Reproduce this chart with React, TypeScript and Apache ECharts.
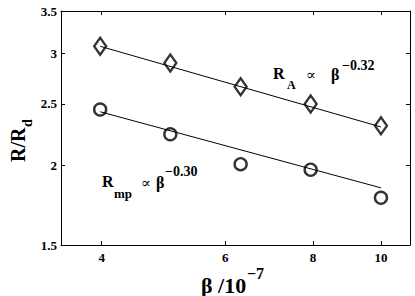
import React, { useEffect, useRef } from "react";
import * as echarts from "echarts";

// Data (log-log plot)
const beta = [3.98, 5.01, 6.31, 7.94, 10.0];
const rA = [3.08, 2.9, 2.66, 2.5, 2.31];
const rMp = [2.45, 2.24, 2.01, 1.97, 1.78];
const fitBeta = [3.98, 10.0];
const fitA = [3.08, 2.3];
const fitMp = [2.43, 1.845];
const xTicks = [4, 6, 8, 10];
const yTicks = [1.5, 2, 2.5, 3, 3.5];
const xRange = [3.5, 11];
const yRange = [1.5, 3.5];

const lg = (v: number) => Math.log10(v);
const FONT = '"Liberation Serif", "DejaVu Serif", "Times New Roman", serif';

function txt(text: string, x: number, y: number, size: number, extra: any = {}) {
  return {
    type: "text", x, y, z: 100, ...extra.el,
    style: {
      text, fontSize: size, fontFamily: FONT, fontWeight: extra.weight || "bold", fill: "#000",
      align: extra.align || "left", verticalAlign: "middle",
    },
  };
}

export default function App() {
  const ref = useRef<HTMLDivElement>(null);
  useEffect(() => {
    if (!ref.current) return;
    const chart = echarts.init(ref.current, null, { renderer: "svg" });
    const xT = xTicks.map(lg);
    const yT = yTicks.map(lg);
    const axisLine = { show: true, onZero: false, lineStyle: { color: "#000", width: 1 } };
    const labelStyle = { fontFamily: FONT, fontWeight: "bold", fontSize: 13, color: "#000" };
    const xBase: any = { type: "value", min: lg(xRange[0]), max: lg(xRange[1]), axisLine,
      axisTick: { show: true, inside: true, length: 4, customValues: xT, lineStyle: { color: "#000" } }, splitLine: { show: false } };
    const yBase: any = { type: "value", min: lg(yRange[0]), max: lg(yRange[1]), axisLine,
      axisTick: { show: true, inside: true, length: 4, customValues: yT, lineStyle: { color: "#000" } }, splitLine: { show: false } };
    const pts = (ys: number[]) => beta.map((b, i) => [lg(b), lg(ys[i])]);
    const fit = (ys: number[]) => fitBeta.map((b, i) => [lg(b), lg(ys[i])]);
    const marker = { color: "rgba(0,0,0,0)", borderColor: "#000", borderWidth: 2.4 };
    chart.setOption({
      animation: false,
      backgroundColor: "#fff",
      grid: { left: 61, right: 5, top: 11, bottom: 51 },
      xAxis: [
        { ...xBase, position: "bottom", axisLabel: { show: false } },
        { ...xBase, position: "top", axisLabel: { show: false } },
      ],
      yAxis: [
        { ...yBase, position: "left", axisLabel: { ...labelStyle, margin: 4, customValues: yT, formatter: (v: number) => String(Math.round(Math.pow(10, v) * 10) / 10) } },
        { ...yBase, position: "right", axisLabel: { show: false } },
      ],
      series: [
        { type: "line", data: fit(fitA), symbol: "none", lineStyle: { color: "#000", width: 1 }, z: 2 },
        { type: "line", data: fit(fitMp), symbol: "none", lineStyle: { color: "#000", width: 1 }, z: 2 },
        { type: "scatter", data: pts(rA), symbol: "diamond", symbolSize: [12, 17], itemStyle: marker, z: 3 },
        { type: "scatter", data: pts(rMp), symbol: "circle", symbolSize: 12, itemStyle: marker, z: 3 },
      ],
    });
    // x tick labels placed through the axis scale (convertToPixel)
    const bottomY = chart.convertToPixel({ yAxisIndex: 0 }, lg(yRange[0])) as number;
    const xLabels = xTicks.map((t) =>
      txt(String(t), chart.convertToPixel({ xAxisIndex: 0 }, lg(t)) as number, bottomY + 12, 13, { align: "center" })
    );
    chart.setOption({
      graphic: [
        ...xLabels,
        // R_A ∝ β^-0.32
        txt("R", 273, 73, 16),
        txt("A", 287, 85, 12),
        txt("\u221D", 306, 75, 15, { weight: "normal" }),
        txt("\u03B2", 331, 74, 16),
        txt("\u22120.32", 342, 65, 14),
        // R_mp ∝ β^-0.30
        txt("R", 102, 181, 16),
        txt("mp", 114, 193, 13),
        txt("\u221D", 141, 183, 15, { weight: "normal" }),
        txt("\u03B2", 156, 182, 16),
        txt("\u22120.30", 165, 171, 14),
        // x axis name
        txt("\u03B2 /10", 201, 285, 22),
        txt("\u22127", 247, 273, 16),
        // y axis name (rotated)
        txt("R/R", 18, 162, 20, { el: { rotation: Math.PI / 2 } }),
        txt("d", 27, 127, 14, { el: { rotation: Math.PI / 2 } }),
      ],
    });
    return () => chart.dispose();
  }, []);
  return (
    <div style={{ position: "absolute", left: 0, top: 0, width: 415, height: 296 }}>
      <div ref={ref} style={{ width: 415, height: 296 }} />
    </div>
  );
}
